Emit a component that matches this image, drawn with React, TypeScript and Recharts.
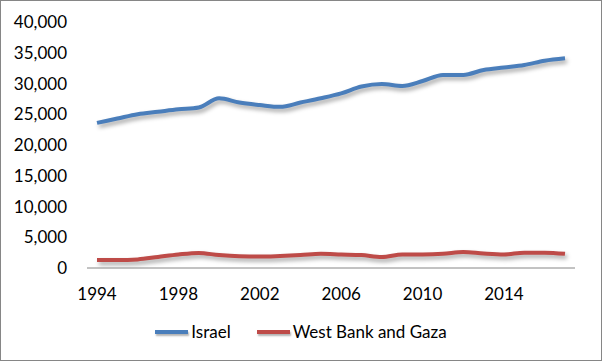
import { LineChart, Line, XAxis, YAxis, Legend } from "recharts";

// Years on the category axis
const years = [
  "1994", "1995", "1996", "1997", "1998", "1999", "2000", "2001",
  "2002", "2003", "2004", "2005", "2006", "2007", "2008", "2009",
  "2010", "2011", "2012", "2013", "2014", "2015", "2016", "2017",
];

// Series values
const israel = [
  23600, 24300, 25000, 25400, 25800, 26100, 27600, 26900,
  26500, 26200, 26900, 27600, 28400, 29500, 29900, 29600,
  30400, 31400, 31400, 32200, 32600, 33000, 33700, 34100,
];
const westBankGaza = [
  1300, 1300, 1400, 1800, 2200, 2450, 2100, 1900,
  1850, 1950, 2100, 2300, 2200, 2100, 1800, 2200,
  2200, 2300, 2600, 2350, 2200, 2500, 2500, 2300,
];

const yTicks = [0, 5000, 10000, 15000, 20000, 25000, 30000, 35000, 40000];

const data = years.map((year, i) => ({
  year,
  israel: israel[i],
  wbg: westBankGaza[i],
}));

const FONT = "Lato, 'Open Sans', sans-serif";

const renderLegend = (props: any) => {
  const { payload } = props;
  return (
    <div
      style={{
        display: "flex",
        justifyContent: "center",
        alignItems: "center",
        gap: 26,
        fontFamily: FONT,
        fontSize: 17,
        color: "#000",
      }}
    >
      {payload.map((entry: any) => (
        <div key={entry.value} style={{ display: "flex", alignItems: "center" }}>
          <span
            style={{
              display: "inline-block",
              width: 33,
              height: 4,
              background: entry.color,
              marginRight: 3,
              boxShadow: "1px 2px 2px rgba(0,0,0,0.3)",
            }}
          />
          <span>{entry.value}</span>
        </div>
      ))}
    </div>
  );
};

export default function App() {
  return (
    <div
      style={{
        position: "absolute",
        top: 0,
        left: 0,
        width: 602,
        height: 361,
        boxSizing: "border-box",
        border: "1px solid #868686",
        background: "#fff",
      }}
    >
      <style>{`.recharts-line-curve { filter: drop-shadow(2px 3px 2px rgba(0,0,0,0.35)); }`}</style>
      <LineChart
        width={600}
        height={359}
        data={data}
        margin={{ top: 21, right: 26, bottom: 62, left: 0 }}
      >
        <XAxis
          dataKey="year"
          interval={3}
          padding={{ left: 10, right: 10 }}
          tickLine={false}
          tickSize={0}
          tickMargin={20}
          height={30}
          axisLine={{ stroke: "#868686" }}
          tick={{ fill: "#000", fontSize: 17, fontFamily: FONT }}
        />
        <YAxis
          domain={[0, 40000]}
          ticks={yTicks}
          axisLine={false}
          tickLine={false}
          tickSize={0}
          tickMargin={20}
          width={86}
          tickFormatter={(v: number) => v.toLocaleString("en-US")}
          tick={{ fill: "#000", fontSize: 17, fontFamily: FONT }}
        />
        <Legend
          layout="horizontal"
          verticalAlign="middle"
          align="center"
          content={renderLegend}
          wrapperStyle={{ top: 320, left: 0, width: 600, height: 24 }}
        />
        <Line
          type="monotone"
          dataKey="israel"
          name="Israel"
          stroke="#4A7EBB"
          strokeWidth={4}
          dot={false}
          activeDot={false}
          isAnimationActive={false}
        />
        <Line
          type="monotone"
          dataKey="wbg"
          name="West Bank and Gaza"
          stroke="#BE4B48"
          strokeWidth={4}
          dot={false}
          activeDot={false}
          isAnimationActive={false}
        />
      </LineChart>
    </div>
  );
}
